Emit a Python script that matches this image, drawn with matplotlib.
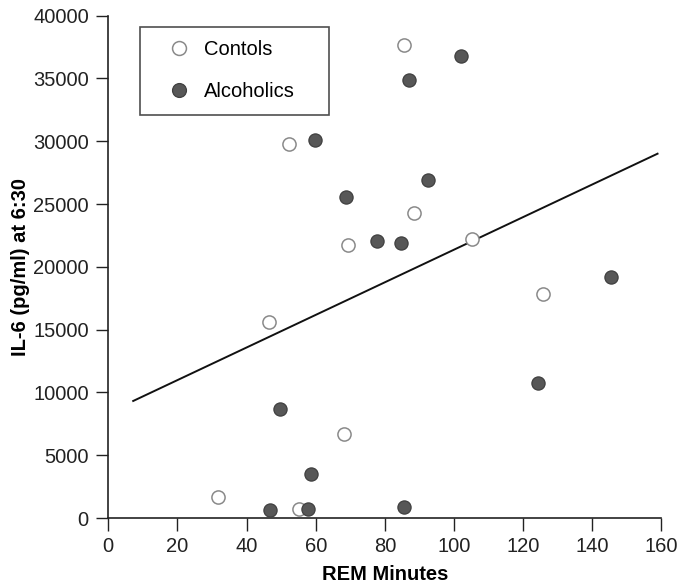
import matplotlib
matplotlib.use("Agg")
import matplotlib.pyplot as plt
from matplotlib.lines import Line2D

plt.rcParams['font.family'] = ['Liberation Sans', 'DejaVu Sans']

# REM minutes vs IL-6 at 6:30
control_rem = [31.8, 46.6, 55.3, 52.4, 69.4, 68.1, 85.6, 88.3, 105.2, 125.9]
control_il6 = [1700, 15630, 690, 29780, 21740, 6680, 37670, 24310, 22220, 17850]

alcoholic_rem = [46.9, 49.8, 57.8, 58.7, 59.8, 68.8, 77.7, 84.7, 85.6, 87.0, 92.6, 102.0, 124.4, 145.4]
alcoholic_il6 = [640, 8650, 740, 3480, 30100, 25540, 22080, 21920, 900, 34850, 26940, 36820, 10780, 19170]

# fitted regression line end points
fit_rem = [7.2, 158.9]
fit_il6 = [9320, 29010]

x_ticks = [0, 20, 40, 60, 80, 100, 120, 140, 160]
y_ticks = [0, 5000, 10000, 15000, 20000, 25000, 30000, 35000, 40000]

open_edge = '#8a8a8a'
fill_face = '#575757'
fill_edge = '#404040'

fig = plt.figure(figsize=(6.79, 5.85), dpi=100)
ax = fig.add_axes([0.1595, 0.1145, 0.8145, 0.8587])

ax.plot(fit_rem, fit_il6, color='#111111', lw=1.4, zorder=2)

ax.scatter(control_rem, control_il6, s=90, facecolor='white',
           edgecolor=open_edge, linewidths=1.1, zorder=3)
ax.scatter(alcoholic_rem, alcoholic_il6, s=90, facecolor=fill_face,
           edgecolor=fill_edge, linewidths=0.9, zorder=4)

ax.set_xlim(0, 160)
ax.set_ylim(0, 40000)
ax.set_xticks(x_ticks)
ax.set_yticks(y_ticks)
ax.tick_params(axis='both', direction='out', length=9, width=1.0,
               labelsize=14.5, colors='#222222', pad=5)
for side in ('top', 'right'):
    ax.spines[side].set_visible(False)
for side in ('left', 'bottom'):
    ax.spines[side].set_linewidth(1.2)
    ax.spines[side].set_color('#222222')

ax.set_xlabel('REM Minutes', fontsize=14.5, fontweight='bold', labelpad=6)
ax.set_ylabel('IL-6 (pg/ml) at 6:30', fontsize=14.5, fontweight='bold', labelpad=2.5)

handles = [
    Line2D([], [], ls='none', marker='o', ms=10, mfc='white', mec=open_edge, mew=1.1),
    Line2D([], [], ls='none', marker='o', ms=10, mfc=fill_face, mec=fill_edge, mew=0.9),
]
leg = ax.legend(handles, ['Contols', 'Alcoholics'], loc='upper left',
                bbox_to_anchor=(0.0573, 0.806, 0.342, 0.172), mode='expand',
                fontsize=14.5, frameon=True, numpoints=1,
                fancybox=False, edgecolor='#222222', borderpad=0.68,
                labelspacing=1.12, handletextpad=0.0, borderaxespad=0,
                handlelength=2.5)
leg.get_frame().set_linewidth(1.2)

fig.savefig('out.png', dpi=100)
